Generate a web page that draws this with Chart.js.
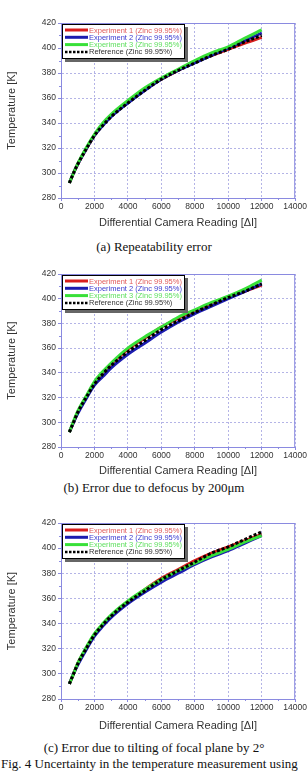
<!DOCTYPE html>
<html>
<head>
<meta charset="utf-8">
<script src="https://cdn.jsdelivr.net/npm/chart.js@4.4.0/dist/chart.umd.min.js"></script>
<style>
  html, body { margin: 0; padding: 0; background: #fff; }
  #page { position: relative; width: 308px; height: 772px; overflow: hidden; background: #fff; }
  canvas { position: absolute; left: 0; }
  .cap { position: absolute; left: 0; width: 308px; text-align: center; font-family: "Liberation Serif", "Times New Roman", serif;
         font-size: 13px; line-height: 14px; color: #111; white-space: nowrap; }
  .fig { text-align: left; left: 1px; width: 400px; }
</style>
</head>
<body>
<div id="page">
  <canvas id="c1" width="308" height="232" style="top:0px;width:308px;height:232px"></canvas>
  <div class="cap" style="top:240px">(a) Repeatability error</div>
  <canvas id="c2" width="308" height="228" style="top:252px;width:308px;height:228px"></canvas>
  <div class="cap" style="top:481px">(b) Error due to defocus by 200μm</div>
  <canvas id="c3" width="308" height="235" style="top:500px;width:308px;height:235px"></canvas>
  <div class="cap" style="top:741px">(c) Error due to tilting of focal plane by 2°</div>
  <div class="cap fig" style="top:757px">Fig. 4 Uncertainty in the temperature measurement using</div>
</div>
<script>
// camera reading (x) where the curves are sampled
var readings = [500, 750, 1000, 1500, 2000, 2500, 3000, 4000, 5000, 6000, 7000, 8000, 9000, 10000, 11000, 12000];

// (a) repeatability
var repExp1 = [292, 300, 307, 319, 330, 339, 346, 357, 367, 375, 382, 389, 394, 399, 404, 408.5];
var repExp2 = [292, 300, 307, 319, 330, 338, 345, 356, 366, 375, 382, 388, 394, 400, 406, 412];
var repExp3 = [292, 300, 307.5, 320, 331, 340, 347, 358, 368, 376, 383, 390, 396, 401, 408, 414.5];
var repRef  = [292, 300, 307, 319, 330, 338, 345, 356, 366, 375, 382, 388, 394, 399, 405, 410];

// (b) defocus
var defExp1 = [292, 300, 308, 320, 332, 340, 347, 359, 368, 377, 384, 390, 396, 401, 406, 411];
var defExp2 = [292, 300, 307, 319, 330, 337, 344, 355, 364, 373, 381, 388, 394, 400, 406, 412];
var defExp3 = [292, 301, 309, 321, 333, 341, 348, 360, 369, 377, 385, 391, 397, 402, 408, 415];
var defRef  = [292, 300, 308, 320, 331, 339, 346, 357, 366, 375, 382, 389, 395, 401, 406, 412];

// (c) tilting
var tiltExp1 = [292, 300, 308, 320, 331, 339, 346, 357, 367, 376, 383, 390, 396, 401, 406, 411];
var tiltExp2 = [292, 300, 307, 319, 330, 338, 345, 356, 365, 373, 380, 387, 393, 398, 404, 410];
var tiltExp3 = [292, 300, 308.5, 321, 332, 340, 347, 358, 367, 375, 382, 388, 394, 399, 405, 410];
var tiltRef  = [292, 300, 308, 320, 331, 339, 346, 357, 366, 375, 382, 389, 396, 401, 407, 413];

var seriesNames = ['Experiment 1 (Zinc 99.95%)', 'Experiment 2 (Zinc 99.95%)', 'Experiment 3 (Zinc 99.95%)', 'Reference (Zinc 99.95%)'];
var lineColors = ['#d81e1e', '#1c1cb0', '#38e038', '#000000'];
var textColors = ['#e05a5a', '#3a3ad0', '#60e060', '#333333'];

var xTicks = [0, 2000, 4000, 6000, 8000, 10000, 12000, 14000];
var yTicks = [280, 300, 320, 340, 360, 380, 400, 420];

var axisColor = '#8a8ae0';

function pts(vals) {
  return vals.map(function (v, i) { return { x: readings[i], y: v }; });
}

// frame, minor ticks and the boxed legend
var decor = {
  id: 'decor',
  afterDatasetsDraw: function (chart) {
    var ctx = chart.ctx, a = chart.chartArea;
    var xs = chart.scales.x, ys = chart.scales.y;
    ctx.save();
    ctx.strokeStyle = axisColor;
    ctx.lineWidth = 1;
    ctx.strokeRect(a.left + 0.5, a.top + 0.5, a.right - a.left - 1, a.bottom - a.top);
    ctx.beginPath();
    for (var v = 1000; v < 14000; v += 2000) {
      var px = Math.round(xs.getPixelForValue(v)) + 0.5;
      ctx.moveTo(px, a.bottom); ctx.lineTo(px, a.bottom + 2);
    }
    for (var t = 290; t < 420; t += 20) {
      var py = Math.round(ys.getPixelForValue(t)) + 0.5;
      ctx.moveTo(a.left, py); ctx.lineTo(a.left - 2, py);
    }
    ctx.stroke();

    // legend
    var x = a.left + 1, y = a.top + 1, w = 123, h = 35;
    ctx.fillStyle = '#666';
    ctx.fillRect(x + 3, y + 3, w, h);
    ctx.fillStyle = '#fff';
    ctx.fillRect(x, y, w, h);
    ctx.strokeStyle = '#000';
    ctx.strokeRect(x + 0.5, y + 0.5, w - 1, h - 1);
    ctx.font = '7.5px "Liberation Sans", Arial, sans-serif';
    ctx.textBaseline = 'middle';
    for (var i = 0; i < seriesNames.length; i++) {
      var ry = y + 6 + i * 7.3;
      ctx.beginPath();
      ctx.strokeStyle = lineColors[i];
      ctx.lineWidth = i === 3 ? 2.5 : 3;
      ctx.setLineDash(i === 3 ? [2.5, 1.5] : []);
      ctx.moveTo(x + 3, ry); ctx.lineTo(x + 26, ry);
      ctx.stroke();
      ctx.setLineDash([]);
      ctx.fillStyle = textColors[i];
      ctx.fillText(seriesNames[i], x + 27, ry + 0.5);
    }
    ctx.restore();
  }
};

function plain(v) { return String(v); }

function makeChart(id, exp1, exp2, exp3, ref, padTop, xHeight) {
  var sets = [
    { data: pts(ref), borderColor: lineColors[3], borderWidth: 3, borderDash: [3, 2] },
    { data: pts(exp3), borderColor: lineColors[2], borderWidth: 3 },
    { data: pts(exp2), borderColor: lineColors[1], borderWidth: 3 },
    { data: pts(exp1), borderColor: lineColors[0], borderWidth: 3 }
  ];
  sets.forEach(function (s) {
    s.pointRadius = 0; s.fill = false; s.cubicInterpolationMode = 'monotone'; s.borderCapStyle = 'butt';
  });
  return new Chart(document.getElementById(id), {
    type: 'line',
    data: { datasets: sets },
    plugins: [decor],
    options: {
      responsive: false,
      animation: false,
      events: [],
      layout: { padding: { top: padTop, right: 12, left: 0, bottom: 0 } },
      plugins: { legend: { display: false }, tooltip: { enabled: false } },
      scales: {
        x: {
          type: 'linear', min: 0, max: 14000,
          afterBuildTicks: function (s) { s.ticks = xTicks.map(function (v) { return { value: v }; }); },
          afterFit: function (s) { s.height = xHeight; },
          ticks: { color: '#333', padding: 1, maxRotation: 0, callback: plain, font: { family: '"Liberation Sans", Arial', size: 8.5 } },
          grid: { color: '#b4b4e6', lineWidth: 1, tickLength: 3, tickColor: axisColor, tickBorderDash: [] },
          border: { color: axisColor, dash: [2, 2] },
          title: { display: true, text: 'Differential Camera Reading [ΔI]', color: '#333', padding: { top: 2, bottom: 2 },
                   font: { family: '"Liberation Sans", Arial', size: 11 } }
        },
        y: {
          type: 'linear', min: 280, max: 420,
          afterBuildTicks: function (s) { s.ticks = yTicks.map(function (v) { return { value: v }; }); },
          afterFit: function (s) { s.width = 61; },
          ticks: { color: '#333', padding: 2, callback: plain, font: { family: '"Liberation Sans", Arial', size: 8.5 } },
          grid: { color: '#b4b4e6', lineWidth: 1, tickLength: 3, tickColor: axisColor, tickBorderDash: [] },
          border: { color: axisColor, dash: [2, 2] },
          title: { display: true, text: 'Temperature [K]', color: '#333', padding: 5,
                   font: { family: '"Liberation Sans", Arial', size: 11 } }
        }
      }
    }
  });
}

makeChart('c1', repExp1, repExp2, repExp3, repRef, 23, 34);
makeChart('c2', defExp1, defExp2, defExp3, defRef, 22, 33);
makeChart('c3', tiltExp1, tiltExp2, tiltExp3, tiltRef, 23, 36);
</script>
</body>
</html>
